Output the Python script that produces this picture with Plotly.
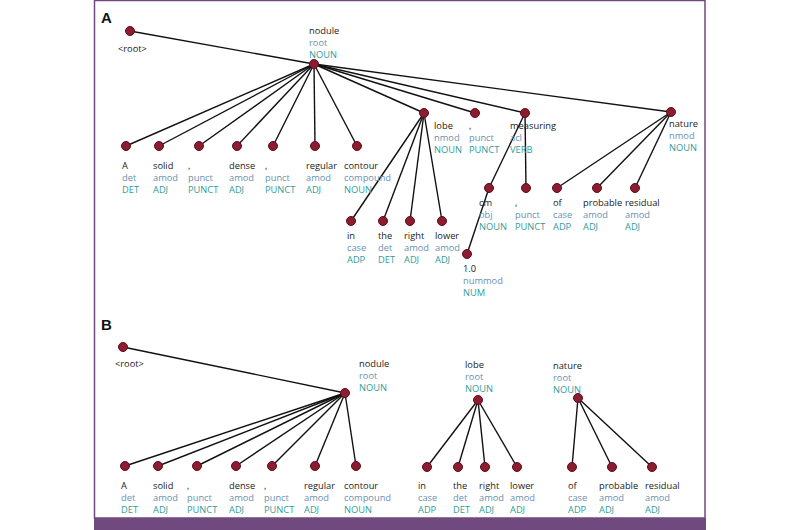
import plotly.graph_objects as go

# ---------------- data ----------------
ROOT_LABEL = "<root>"

tokens_a = ["A", "solid", ",", "dense", ",", "regular", "contour", "nodule",
            "in", "the", "right", "lower", "lobe", ",", "measuring", "1.0", "cm",
            ",", "of", "probable", "residual", "nature"]
deps_a = ["det", "amod", "punct", "amod", "punct", "amod", "compound", "root",
          "case", "det", "amod", "amod", "nmod", "punct", "acl", "nummod", "obj",
          "punct", "case", "amod", "amod", "nmod"]
pos_a = ["DET", "ADJ", "PUNCT", "ADJ", "PUNCT", "ADJ", "NOUN", "NOUN",
         "ADP", "DET", "ADJ", "ADJ", "NOUN", "PUNCT", "VERB", "NUM", "NOUN",
         "PUNCT", "ADP", "ADJ", "ADJ", "NOUN"]
heads_a = [7, 7, 7, 7, 7, 7, 7, -1, 12, 12, 12, 12, 7, 7, 7, 16, 14, 14, 21, 21, 21, 7]

tokens_b = ["A", "solid", ",", "dense", ",", "regular", "contour", "nodule",
            "in", "the", "right", "lower", "lobe", "of", "probable", "residual", "nature"]
deps_b = ["det", "amod", "punct", "amod", "punct", "amod", "compound", "root",
          "case", "det", "amod", "amod", "root", "case", "amod", "amod", "root"]
pos_b = ["DET", "ADJ", "PUNCT", "ADJ", "PUNCT", "ADJ", "NOUN", "NOUN",
         "ADP", "DET", "ADJ", "ADJ", "NOUN", "ADP", "ADJ", "ADJ", "NOUN"]
heads_b = [7, 7, 7, 7, 7, 7, 7, -1, 12, 12, 12, 12, None, 16, 16, 16, None]

# ---------------- layout (drawing positions, not data) ----------------
# (node x, node y, label x, label y of first text line)
root_layout_a = (130, 31, 118, 48)
layout_a = [
    (126, 146, 122, 165), (159, 146, 153, 165), (199, 146, 188, 165),
    (237, 146, 229, 165), (273, 146, 265, 165), (315, 146, 306, 165),
    (357, 146, 344, 165), (314, 64, 309, 30),
    (351, 221, 347, 235), (383, 221, 378, 235), (410, 221, 404, 235),
    (442, 221, 435, 235), (424, 113, 434, 125), (475, 113, 469, 125),
    (525, 113, 510, 125), (467, 254, 463, 268), (489, 188, 479, 202),
    (526, 188, 515, 202), (557, 188, 553, 202), (597, 188, 583, 202),
    (635, 188, 625, 202), (671, 112, 669, 123),
]
root_layout_b = (123, 347, 115, 363)
layout_b = [
    (125, 466, 121, 485), (158, 466, 153, 485), (197, 466, 187, 485),
    (236, 466, 229, 485), (272, 466, 264, 485), (315, 466, 304, 485),
    (356, 466, 344, 485), (345, 393, 359, 363),
    (427, 467, 418, 485), (458, 467, 453, 485), (485, 467, 479, 485),
    (517, 467, 510, 485), (478, 400, 465, 364),
    (572, 467, 568, 485), (612, 467, 599, 485), (652, 467, 645, 485),
    (578, 398, 553, 365),
]

WORD_C = "#222222"
DEP_C = "#6a91b0"
POS_C = "#2f9c9c"
NODE_C = "#8c1c30"
NODE_LINE = "#5a0e1c"
FRAME_C = "#70497f"
FONT = "Open Sans"
FSIZE = 9.3
LINE_GAP = FSIZE * 1.3

fig = go.Figure()
annotations = []


def add_tree(tokens, deps, pos, heads, lay, root_lay):
    ex, ey = [], []
    for i, h in enumerate(heads):
        if h is None:
            continue
        hx, hy = (root_lay[0], root_lay[1]) if h == -1 else (lay[h][0], lay[h][1])
        ex += [lay[i][0], hx, None]
        ey += [lay[i][1], hy, None]
    fig.add_trace(go.Scatter(x=ex, y=ey, mode="lines",
                             line=dict(color="#111111", width=1.4),
                             hoverinfo="skip", showlegend=False))
    nx = [root_lay[0]] + [p[0] for p in lay]
    ny = [root_lay[1]] + [p[1] for p in lay]
    fig.add_trace(go.Scatter(x=nx, y=ny, mode="markers",
                             marker=dict(color=NODE_C, size=9,
                                         line=dict(color=NODE_LINE, width=1)),
                             hoverinfo="skip", showlegend=False))
    annotations.append(dict(x=root_lay[2] - 2, y=root_lay[3],
                            text=ROOT_LABEL.replace("<", "&lt;").replace(">", "&gt;"),
                            font=dict(color=WORD_C, size=FSIZE, family=FONT)))
    for i, t in enumerate(tokens):
        lx, ly = lay[i][2] - 2, lay[i][3]
        txt = (f"{t}<br><span style='color:{DEP_C}'>{deps[i]}</span>"
               f"<br><span style='color:{POS_C}'>{pos[i]}</span>")
        annotations.append(dict(x=lx, y=ly + LINE_GAP, text=txt, align="left",
                                font=dict(color=WORD_C, size=FSIZE, family=FONT)))


add_tree(tokens_a, deps_a, pos_a, heads_a, layout_a, root_layout_a)
add_tree(tokens_b, deps_b, pos_b, heads_b, layout_b, root_layout_b)

for a in annotations:
    a.update(xref="x", yref="y", xanchor="left", yanchor="middle", showarrow=False)

annotations.append(dict(x=106, y=17, xref="x", yref="y", text="<b>A</b>", showarrow=False,
                        font=dict(color="#111111", size=15, family="Liberation Sans")))
annotations.append(dict(x=106, y=324, xref="x", yref="y", text="<b>B</b>", showarrow=False,
                        font=dict(color="#111111", size=15, family="Liberation Sans")))

shapes = [
    dict(type="rect", xref="x", yref="y", x0=94.5, x1=705, y0=0.5, y1=518,
         line=dict(color=FRAME_C, width=1.5), fillcolor="rgba(0,0,0,0)", layer="below"),
    dict(type="rect", xref="x", yref="y", x0=94, x1=706, y0=518, y1=531,
         line=dict(width=0), fillcolor=FRAME_C, layer="below"),
]

fig.update_layout(
    width=800, height=530,
    margin=dict(l=0, r=0, t=0, b=0),
    paper_bgcolor="white", plot_bgcolor="white",
    xaxis=dict(range=[0, 800], visible=False, fixedrange=True),
    yaxis=dict(range=[530, 0], visible=False, fixedrange=True),
    annotations=annotations, shapes=shapes,
)

fig.write_html("out.html", config={"displayModeBar": False},
               post_script="document.body.style.margin='0';")
